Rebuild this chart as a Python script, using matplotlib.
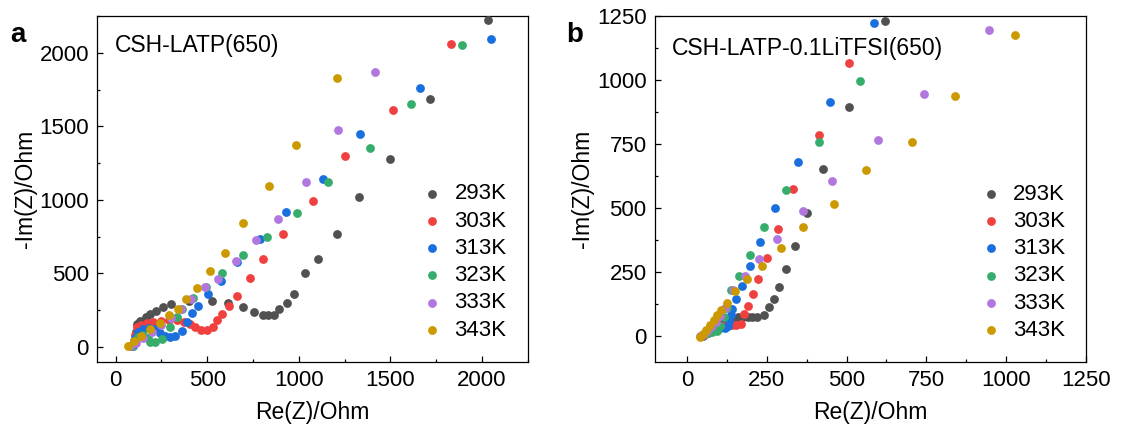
import matplotlib
matplotlib.use("Agg")
import matplotlib.pyplot as plt
from matplotlib.ticker import MultipleLocator

plt.rcParams['font.family'] = ['Liberation Sans', 'DejaVu Sans']

labels = ['293K', '303K', '313K', '323K', '333K', '343K']
colors = ['#515151', '#F14040', '#1A6FDF', '#37AD6B', '#B177DE', '#CC9900']

# ---- Panel a: CSH-LATP(650) ----
a_293_x = [100, 110, 118, 135, 164, 190, 220, 260, 302, 400, 526, 612, 694, 754, 803, 830, 863, 894, 934, 973, 1034, 1105, 1209, 1328, 1497, 1717, 2033]
a_293_y = [40, 100, 154, 180, 203, 225, 244, 270, 294, 310, 312, 298, 271, 237, 220, 220, 220, 258, 301, 359, 502, 595, 766, 1017, 1279, 1684, 2222]

a_303_x = [100, 105, 117, 140, 170, 205, 250, 290, 333, 375, 406, 433, 464, 497, 530, 555, 583, 621, 661, 734, 807, 916, 1076, 1253, 1512, 1831]
a_303_y = [20, 80, 136, 150, 160, 170, 178, 182, 181, 170, 159, 136, 113, 113, 136, 181, 222, 276, 350, 468, 601, 766, 995, 1297, 1614, 2061]

a_313_x = [95, 105, 120, 150, 185, 215, 242, 270, 297, 324, 360, 388, 415, 452, 506, 577, 661, 790, 929, 1133, 1335, 1661, 2049]
a_313_y = [10, 60, 100, 120, 130, 120, 95, 72, 68, 75, 110, 170, 230, 276, 357, 452, 575, 735, 915, 1142, 1451, 1759, 2093]

a_323_x = [90, 100, 120, 150, 175, 187, 215, 252, 297, 333, 361, 424, 493, 581, 694, 825, 992, 1160, 1391, 1612, 1891]
a_323_y = [5, 40, 70, 80, 60, 35, 34, 57, 136, 203, 260, 336, 411, 502, 624, 746, 911, 1119, 1352, 1650, 2054]

a_333_x = [80, 110, 150, 200, 250, 300, 355, 410, 488, 561, 656, 768, 889, 1042, 1213, 1419]
a_333_y = [5, 25, 60, 105, 150, 200, 260, 328, 407, 459, 583, 725, 868, 1119, 1476, 1869]

a_343_x = [65, 100, 140, 190, 240, 290, 342, 384, 443, 514, 597, 694, 836, 985, 1209]
a_343_y = [10, 40, 75, 120, 165, 215, 260, 323, 403, 515, 637, 841, 1092, 1374, 1828]

# ---- Panel b: CSH-LATP-0.1LiTFSI(650) ----
b_293_x = [55, 70, 85, 100, 115, 130, 145, 160, 175, 190, 205, 220, 240, 258, 272, 289, 310, 339, 376, 427, 508, 621]
b_293_y = [5, 20, 35, 48, 58, 66, 72, 75, 76, 75, 75, 77, 82, 113, 147, 193, 263, 352, 480, 655, 896, 1232]

b_303_x = [50, 65, 80, 95, 110, 125, 140, 155, 170, 180, 192, 208, 222, 251, 285, 331, 413, 508]
b_303_y = [3, 15, 28, 36, 41, 43, 43, 43, 50, 89, 118, 165, 225, 307, 419, 575, 786, 1066]

b_313_x = [48, 60, 75, 90, 105, 120, 128, 133, 137, 140, 155, 171, 197, 230, 276, 348, 447, 587]
b_313_y = [3, 12, 22, 28, 31, 33, 40, 60, 82, 107, 145, 196, 273, 368, 500, 680, 914, 1224]

b_323_x = [45, 55, 66, 80, 95, 105, 115, 125, 138, 162, 197, 242, 311, 413, 542]
b_323_y = [2, 8, 14, 17, 20, 40, 75, 110, 180, 236, 316, 427, 573, 758, 996]

b_333_x = [42, 52, 62, 75, 90, 105, 120, 143, 183, 227, 282, 364, 454, 597, 741, 945]
b_333_y = [1, 10, 20, 35, 55, 80, 110, 180, 236, 300, 380, 490, 607, 766, 946, 1197]

b_343_x = [40, 50, 60, 72, 85, 95, 107, 125, 150, 189, 234, 295, 364, 460, 561, 706, 841, 1027]
b_343_y = [-3, 10, 25, 45, 65, 85, 104, 130, 176, 223, 275, 345, 426, 516, 648, 760, 939, 1177]

panel_a = [(a_293_x, a_293_y), (a_303_x, a_303_y), (a_313_x, a_313_y),
           (a_323_x, a_323_y), (a_333_x, a_333_y), (a_343_x, a_343_y)]
panel_b = [(b_293_x, b_293_y), (b_303_x, b_303_y), (b_313_x, b_313_y),
           (b_323_x, b_323_y), (b_333_x, b_333_y), (b_343_x, b_343_y)]

fig = plt.figure(figsize=(11.21, 4.36), dpi=100)
ax1 = fig.add_axes([0.0868, 0.1704, 0.3839, 0.7929])
ax2 = fig.add_axes([0.5843, 0.1697, 0.3845, 0.7936])


def style(ax, xlim, ylim, xmaj, ymaj):
    ax.set_xlim(*xlim)
    ax.set_ylim(*ylim)
    ax.xaxis.set_major_locator(MultipleLocator(xmaj))
    ax.xaxis.set_minor_locator(MultipleLocator(xmaj / 2))
    ax.yaxis.set_major_locator(MultipleLocator(ymaj))
    ax.yaxis.set_minor_locator(MultipleLocator(ymaj / 2))
    ax.tick_params(which='both', direction='in', top=False, right=False, labelsize=16)
    ax.tick_params(which='major', length=4, width=0.9, pad=6)
    ax.tick_params(which='minor', length=2.5, width=0.9)
    for s in ax.spines.values():
        s.set_linewidth(0.9)
    ax.set_xlabel('Re(Z)/Ohm', fontsize=16.5, labelpad=7)
    ax.set_ylabel('-Im(Z)/Ohm', fontsize=16.5, labelpad=2)


for ax, data in ((ax1, panel_a), (ax2, panel_b)):
    for (xs, ys), lab, c in zip(data, labels, colors):
        ax.scatter(xs, ys, s=40, color=c, label=lab, linewidths=0, zorder=3)
    ax.legend(loc='lower right', frameon=False, fontsize=16, handletextpad=0.4,
              labelspacing=0.28, markerscale=1.0, borderaxespad=0.55, handlelength=1.2)

style(ax1, (-100, 2250), (-100, 2250), 500, 500)
style(ax2, (-100, 1250), (-100, 1250), 250, 250)

ax1.text(0.04, 0.915, 'CSH-LATP(650)', transform=ax1.transAxes, fontsize=16.5, va='center', ha='left')
ax2.text(0.04, 0.905, 'CSH-LATP-0.1LiTFSI(650)', transform=ax2.transAxes, fontsize=16.5, va='center', ha='left')

fig.text(0.009, 0.92, 'a', fontsize=20, fontweight='bold', va='center', ha='left')
fig.text(0.505, 0.92, 'b', fontsize=20, fontweight='bold', va='center', ha='left')

fig.savefig('out.png', dpi=100)
